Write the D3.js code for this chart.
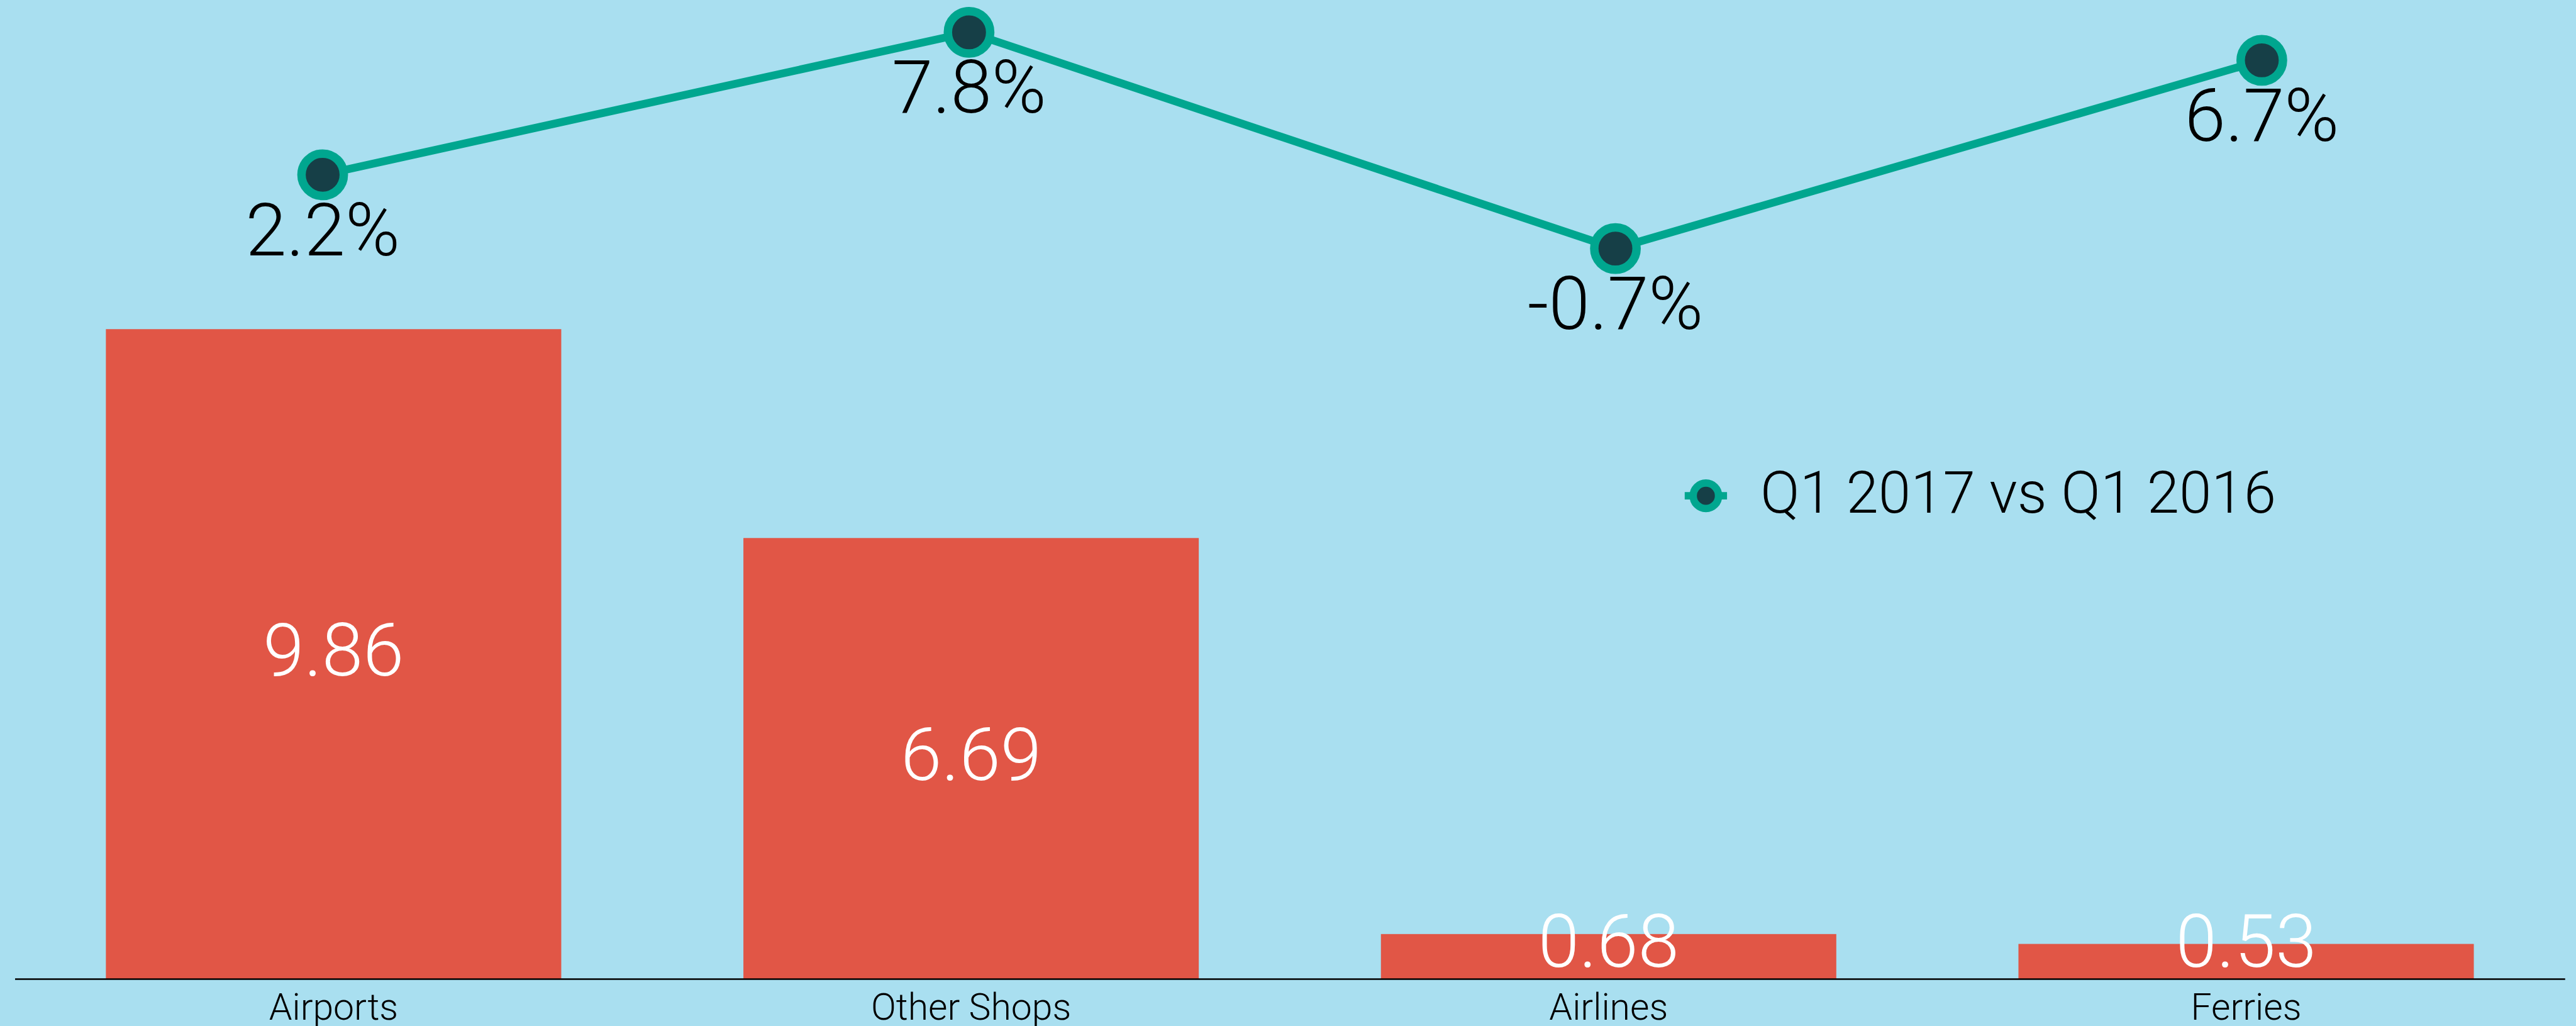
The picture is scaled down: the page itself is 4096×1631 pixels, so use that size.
<!DOCTYPE html>
<html>
<head>
<meta charset="utf-8">
<script src="https://cdn.jsdelivr.net/npm/d3@7"></script>
<style>
  html, body { margin: 0; padding: 0; background: #a9dff0; overflow: hidden; }
  svg { display: block; }
  text { font-family: Roboto, 'Noto Sans', sans-serif; font-weight: 300; }
</style>
</head>
<body>
<div id="chart"></div>
<script>
  // data
  const categories = ['Airports', 'Other Shops', 'Airlines', 'Ferries']
  const salesValues = [9.86, 6.69, 0.68, 0.53]
  const growthValues = [2.2, 7.8, -0.7, 6.7]
  const growthLabels = ['2.2%', '7.8%', '-0.7%', '6.7%']
  const legendLabel = 'Q1 2017 vs Q1 2016'

  // drawn in reference units, scaled down by the viewBox
  const W = 4870
  const H = 1939
  const colors = { bg: '#a9dff0', bar: '#e15646', line: '#00a68f', dot: '#163f47' }

  const svg = d3
    .select('#chart')
    .append('svg')
    .attr('width', 4096)
    .attr('height', 1631)
    .attr('viewBox', `0 0 ${W} ${H}`)

  svg.append('rect').attr('width', W).attr('height', H).attr('fill', colors.bg)

  const x = d3
    .scaleBand()
    .domain(categories)
    .range([28, 4849])
    .paddingInner(2 / 7)
    .paddingOuter(1 / 7)

  const y = d3.scaleLinear().domain([0, 9.86]).range([1850, 622])

  // the growth line uses its own category positions
  const xLine = d3.scalePoint().domain(categories).range([610, 4276])
  const yLine = d3.scaleLinear().domain([0, 7.8]).range([436, 61])

  // bars
  svg
    .append('g')
    .selectAll('rect')
    .data(salesValues)
    .enter()
    .append('rect')
    .attr('fill', colors.bar)
    .attr('x', (d, i) => x(categories[i]))
    .attr('y', (d) => y(d))
    .attr('width', x.bandwidth())
    .attr('height', (d) => y(0) - y(d))

  // bar values
  svg
    .append('g')
    .selectAll('text')
    .data(salesValues)
    .enter()
    .append('text')
    .attr('fill', '#fff')
    .attr('font-size', 140)
    .attr('text-anchor', 'middle')
    .attr('x', (d, i) => x(categories[i]) + x.bandwidth() / 2)
    .attr('y', (d) => Math.min((y(d) + y(0)) / 2 + 41, y(0) - 23))
    .text((d) => d.toFixed(2))

  // x axis
  const xAxis = d3.axisBottom(x).tickSize(0)
  const axisG = svg
    .append('g')
    .attr('transform', `translate(0,${y(0)})`)
    .call(xAxis)
  axisG.select('.domain').attr('stroke', '#000').attr('stroke-width', 3)
  axisG
    .selectAll('text')
    .attr('y', 77)
    .attr('dy', 0)
    .attr('fill', '#000')
    .attr('font-size', 70)
    .attr('font-family', "Roboto, 'Noto Sans', sans-serif")

  // growth line
  const line = d3
    .line()
    .x((d, i) => xLine(categories[i]))
    .y((d) => yLine(d))

  svg
    .append('path')
    .datum(growthValues)
    .attr('fill', 'none')
    .attr('stroke', colors.line)
    .attr('stroke-width', 15)
    .attr('stroke-linejoin', 'round')
    .attr('d', line)

  svg
    .append('g')
    .selectAll('circle')
    .data(growthValues)
    .enter()
    .append('circle')
    .attr('cx', (d, i) => xLine(categories[i]))
    .attr('cy', (d) => yLine(d))
    .attr('r', 40)
    .attr('fill', colors.dot)
    .attr('stroke', colors.line)
    .attr('stroke-width', 16)

  svg
    .append('g')
    .selectAll('text')
    .data(growthValues)
    .enter()
    .append('text')
    .attr('fill', '#000')
    .attr('font-size', 140)
    .attr('text-anchor', 'middle')
    .attr('x', (d, i) => xLine(categories[i]))
    .attr('y', (d) => yLine(d) + 152)
    .text((d, i) => growthLabels[i])

  // legend
  const legend = svg.append('g').attr('transform', 'translate(3225,937)')
  legend
    .append('line')
    .attr('x1', -40)
    .attr('x2', 40)
    .attr('stroke', colors.line)
    .attr('stroke-width', 14)
  legend
    .append('circle')
    .attr('r', 24)
    .attr('fill', colors.dot)
    .attr('stroke', colors.line)
    .attr('stroke-width', 14)
  legend
    .append('text')
    .attr('x', 103)
    .attr('y', 32)
    .attr('font-size', 110)
    .attr('fill', '#000')
    .text(legendLabel)
</script>
</body>
</html>
